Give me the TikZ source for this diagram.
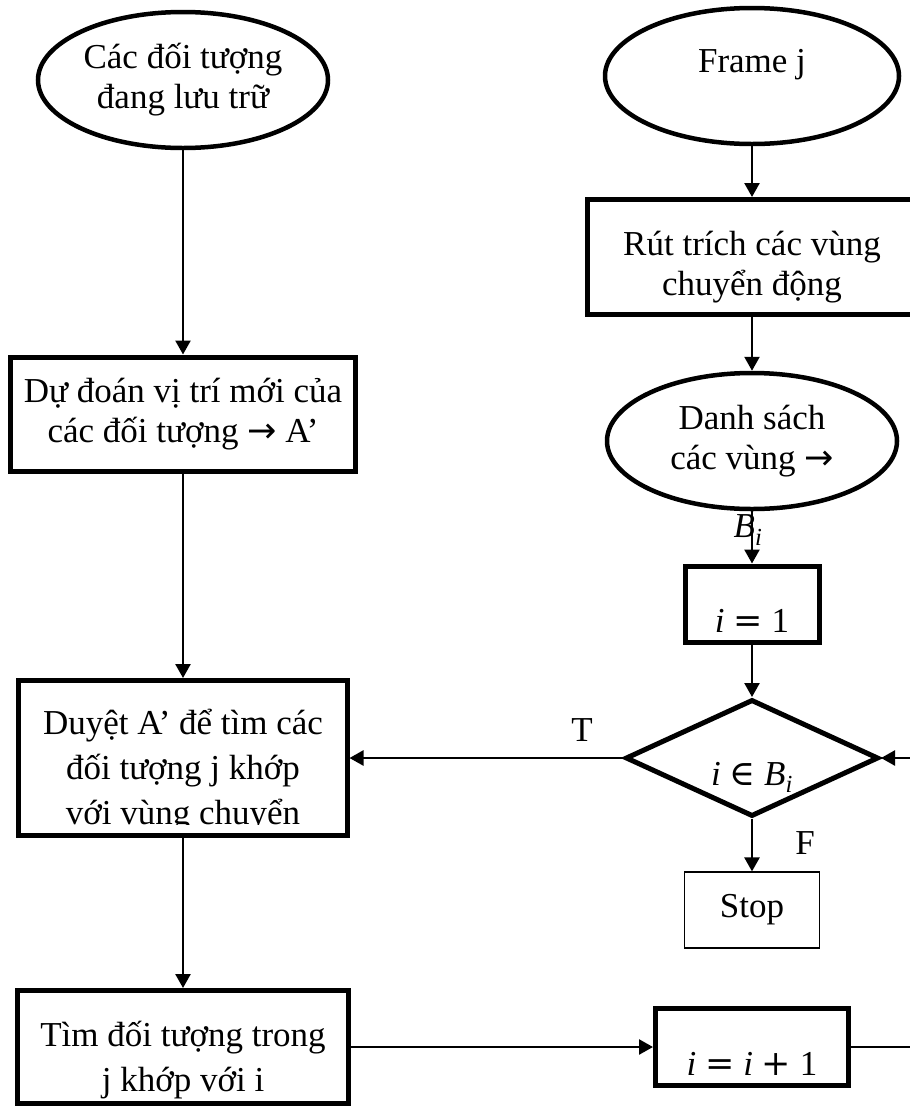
\documentclass[tikz,border=0pt]{standalone}
\usepackage{fontspec}
\setmainfont{Liberation Serif}
\newfontfamily\symfont{DejaVu Serif}
\newfontfamily\arrowfont{DejaVu Sans}
\usetikzlibrary{positioning,arrows.meta,shapes.geometric}

\begin{document}
\begin{tikzpicture}[x=1bp,y=-1bp,
  font=\fontsize{35bp}{40bp}\selectfont,
  oval/.style={draw,ellipse,line width=4.5bp,inner sep=0pt,minimum width=290bp,minimum height=136bp,align=center},
  proc/.style={draw,rectangle,line width=5bp,inner sep=0pt,align=center},
  mbox/.style={draw,rectangle,line width=5bp,inner sep=0pt,text height=56bp,text depth=0bp},
  decide/.style={draw,diamond,aspect=2.16,line width=5bp,inner sep=0pt,minimum width=253bp,minimum height=117bp,text height=54bp,text depth=0bp},
  endbox/.style={draw,rectangle,line width=1.2bp,minimum width=135bp,minimum height=76bp},
  arr/.style={line width=2.5bp,-{Triangle[length=14bp,width=15bp]}}]
\path[use as bounding box] (0,0) rectangle (910,1106);
\clip (0,0) rectangle (910,1106);
% left column
\node[oval] (store) at (183,80) {Các đối tượng\\đang lưu trữ};
\node[proc,minimum width=345bp,minimum height=114bp] (pred) at (183,414) {Dự đoán vị trí mới của\\các đối tượng {\arrowfont →} A’};
\node[proc,minimum width=328bp,minimum height=155bp] (scan) at (183,758) {};
\begin{scope}
  \clip (scan.north west) rectangle (347,824);
  \node[align=center] (scantxt) at (183,771) {Duyệt A’ để tìm các\\[5bp]đối tượng j khớp\\[5bp]với vùng chuyển};
\end{scope}
\node[proc,minimum width=330bp,minimum height=113bp] (find) at (183,1047) {\rule{0pt}{52bp}Tìm đối tượng trong\\[5bp]j khớp với i};
% right column
\node[oval,minimum width=294bp,text height=23bp,text depth=31bp] (frame) at (752,76) {Frame j};
\node[proc,minimum width=330bp,minimum height=115bp] (extract) at (752,257) {\rule{0pt}{44bp}Rút trích các vùng\\chuyển động};
\node[oval] (list) at (752,441) {Danh sách\\các vùng {\arrowfont →}};
\node (bi) at (748,530) {\textit{B}\textsubscript{\textit{i}}};
\node[mbox,minimum width=134bp,minimum height=76bp] (init) at (752,604) {\textit{i} {\symfont =} 1};
\node[decide] (test) at (752,758) {\textit{i} {\symfont ∈} \textit{B}\textsubscript{\textit{i}}};
\node[endbox] (stop) at (752,910) {Stop};
\node[mbox,minimum width=193bp,minimum height=77bp] (inc) at (752,1047) {\textit{i} {\symfont =} \textit{i} {\symfont +} 1};
% branch labels
\node (tl) at (582,730) {T};
\node (fl) at (805,843) {F};
\coordinate (loop) at (935,1047);
% flow
\draw[arr] (store) -- (pred);
\draw[arr] (pred) -- (scan);
\draw[arr] (scan) -- (find);
\draw[arr] (find) -- (inc);
\draw[arr] (inc) -- (loop) |- (test);
\draw[arr] (frame) -- (extract);
\draw[arr] (extract) -- (list);
\draw[arr] (list) -- (init);
\draw[arr] (init) -- (test);
\draw[arr] (test) -- (scan);
\draw[arr] (test) -- (stop);
\end{tikzpicture}
\end{document}
